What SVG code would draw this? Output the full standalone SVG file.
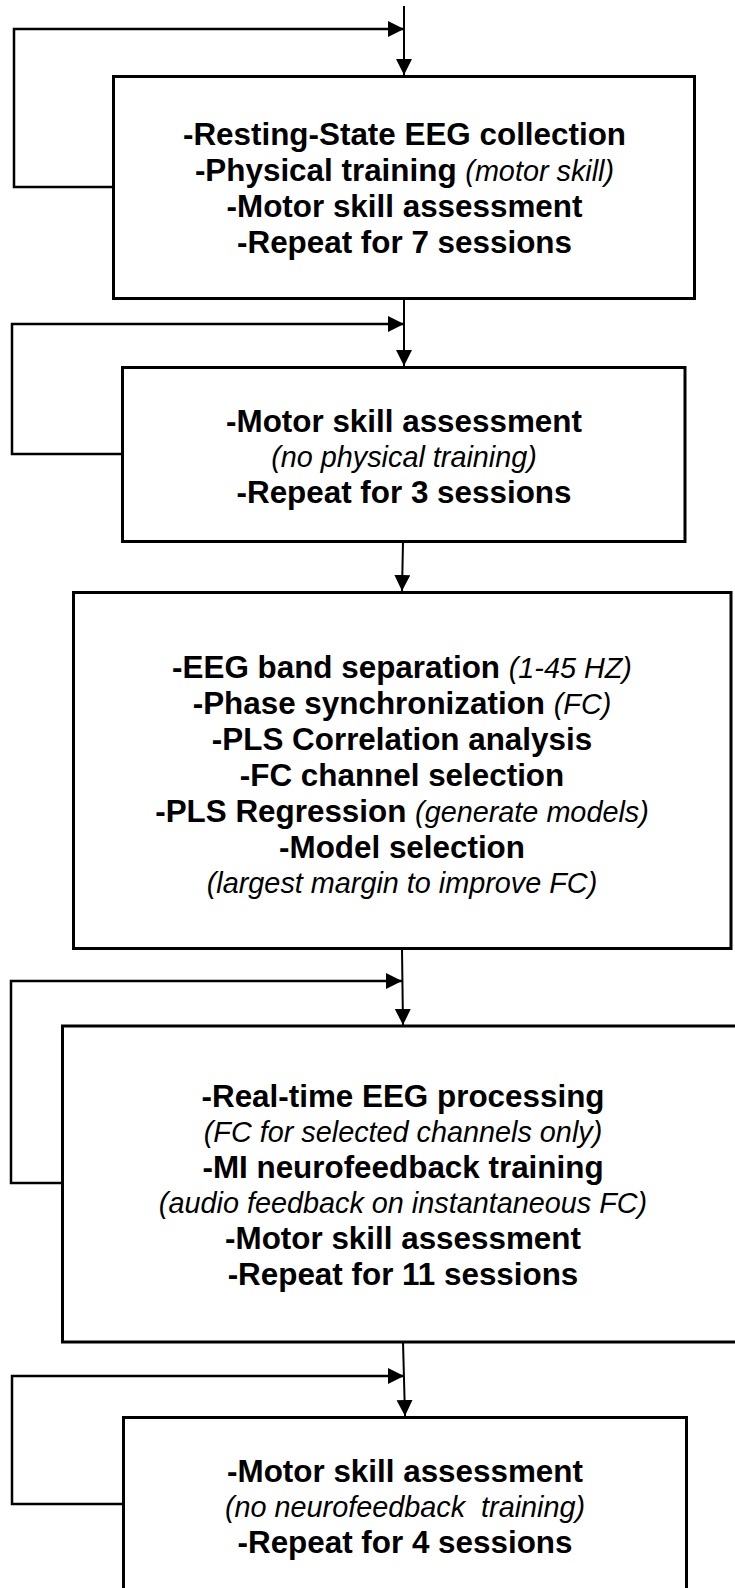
<svg xmlns="http://www.w3.org/2000/svg" width="735" height="1588" viewBox="0 0 735 1588">
  <style>
    .box { fill: #ffffff; stroke: #000000; stroke-width: 3; }
    .flow { fill: none; stroke: #000000; stroke-width: 2; }
    .loop { fill: none; stroke: #000000; stroke-width: 2.5; }
    text { font-family: "Liberation Sans", Arial, sans-serif; fill: #000000; text-anchor: middle; white-space: pre; }
    .b { font-size: 31.4px; font-weight: bold; }
    .i { font-size: 28.8px; font-style: italic; font-weight: normal; }
  </style>
  <defs>
    <marker id="arrow" markerUnits="userSpaceOnUse" markerWidth="17" markerHeight="17" refX="16" refY="8" orient="auto">
      <path d="M0,0 L16,8 L0,16 z" fill="#000000"/>
    </marker>
  </defs>
  <rect width="735" height="1588" fill="#ffffff"/>

  <!-- connectors: forward flow and repeat loops -->
  <g id="connectors">
    <line class="flow" x1="404" y1="6" x2="404" y2="75" marker-end="url(#arrow)"/>
    <polyline class="loop" points="113,187 14,187 14,29 404,29" marker-end="url(#arrow)"/>

    <line class="flow" x1="404" y1="300" x2="404" y2="366" marker-end="url(#arrow)"/>
    <polyline class="loop" points="122,454 12,454 12,324 404,324" marker-end="url(#arrow)"/>

    <line class="flow" x1="403" y1="542" x2="402" y2="591" marker-end="url(#arrow)"/>

    <line class="flow" x1="402" y1="949" x2="403" y2="1025" marker-end="url(#arrow)"/>
    <polyline class="loop" points="62,1183 11,1183 11,981 402,981" marker-end="url(#arrow)"/>

    <line class="flow" x1="403" y1="1342" x2="405" y2="1416" marker-end="url(#arrow)"/>
    <polyline class="loop" points="123,1504 12,1504 12,1376 404,1376" marker-end="url(#arrow)"/>
  </g>

  <g id="stage-baseline">
    <rect class="box" x="113.5" y="76.5" width="581" height="222"/>
    <text x="404.5" y="145" class="b">-Resting-State EEG collection</text>
    <text x="404.5" y="181" class="b">-Physical training <tspan class="i">(motor skill)</tspan></text>
    <text x="404.5" y="217" class="b">-Motor skill assessment</text>
    <text x="404.5" y="253" class="b">-Repeat for 7 sessions</text>
  </g>

  <g id="stage-retention">
    <rect class="box" x="122.5" y="367.5" width="562.5" height="174"/>
    <text x="404" y="432" class="b">-Motor skill assessment</text>
    <text x="404" y="467" class="i">(no physical training)</text>
    <text x="404" y="503" class="b">-Repeat for 3 sessions</text>
  </g>

  <g id="stage-analysis">
    <rect class="box" x="73.5" y="592.5" width="657.5" height="356"/>
    <text x="402" y="678" class="b">-EEG band separation <tspan class="i">(1-45 HZ)</tspan></text>
    <text x="402" y="714" class="b">-Phase synchronization <tspan class="i">(FC)</tspan></text>
    <text x="402" y="750" class="b">-PLS Correlation analysis</text>
    <text x="402" y="786" class="b">-FC channel selection</text>
    <text x="402" y="822" class="b">-PLS Regression <tspan class="i">(generate models)</tspan></text>
    <text x="402" y="858" class="b">-Model selection</text>
    <text x="402" y="893" class="i">(largest margin to improve FC)</text>
  </g>

  <g id="stage-neurofeedback">
    <rect class="box" x="62.5" y="1026" width="690" height="316"/>
    <text x="403" y="1107" class="b">-Real-time EEG processing</text>
    <text x="403" y="1142" class="i">(FC for selected channels only)</text>
    <text x="403" y="1178" class="b">-MI neurofeedback training</text>
    <text x="403" y="1213" class="i">(audio feedback on instantaneous FC)</text>
    <text x="403" y="1249" class="b">-Motor skill assessment</text>
    <text x="403" y="1285" class="b">-Repeat for 11 sessions</text>
  </g>

  <g id="stage-follow-up">
    <rect class="box" x="123.5" y="1417.5" width="563" height="200"/>
    <text x="405" y="1482" class="b">-Motor skill assessment</text>
    <text x="405" y="1517" class="i">(no neurofeedback  training)</text>
    <text x="405" y="1553" class="b">-Repeat for 4 sessions</text>
  </g>
</svg>
